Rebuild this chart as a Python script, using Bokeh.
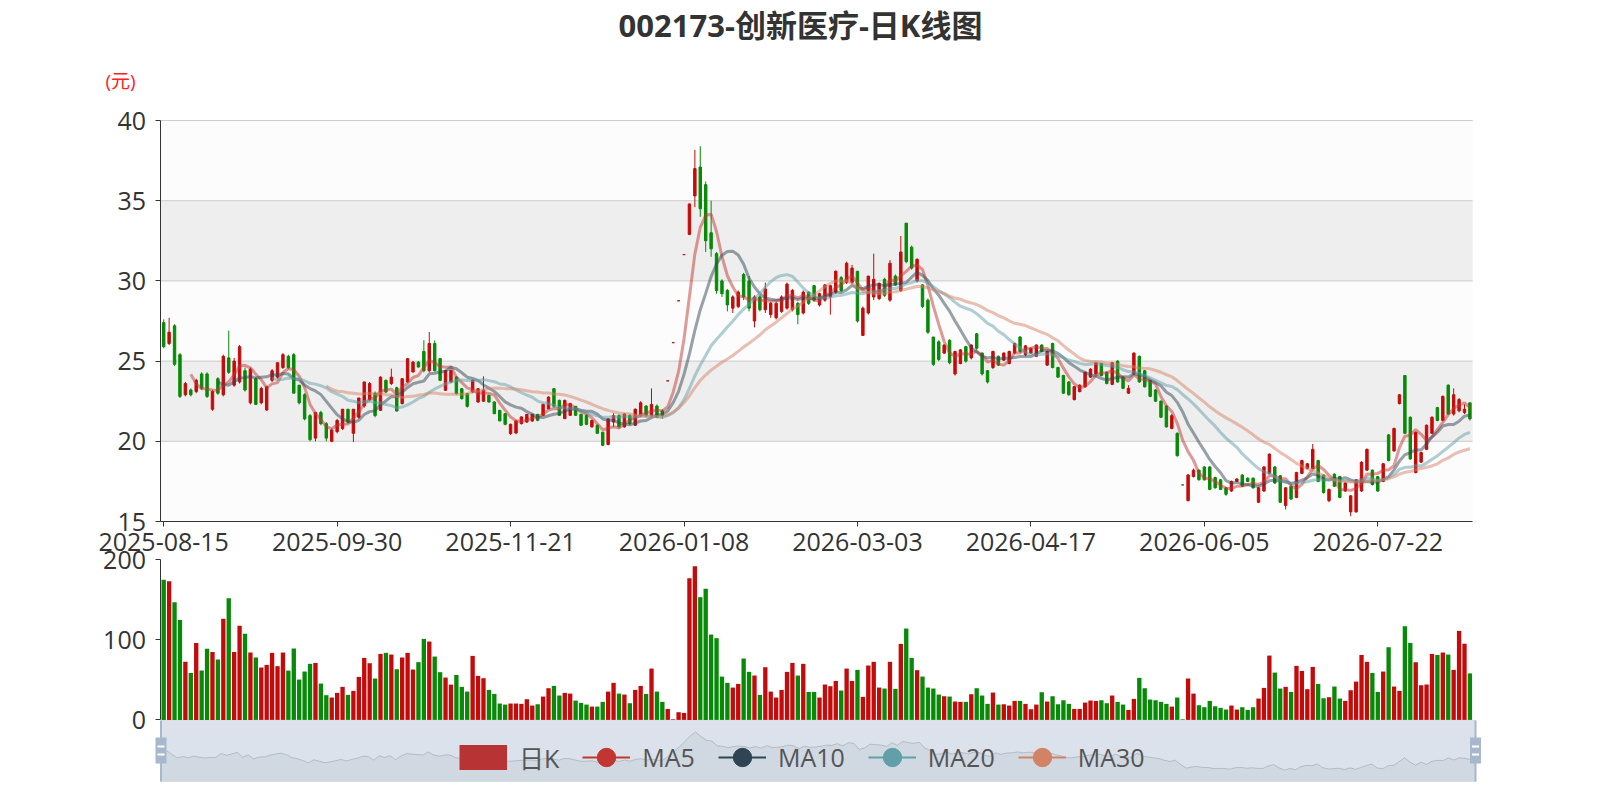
import numpy as np
import pandas as pd
from bokeh.plotting import figure
from bokeh.models import Range1d, LinearAxis, FixedTicker, Legend, LegendItem
from bokeh.embed import file_html
from bokeh.resources import INLINE
from bokeh.core.properties import value

# ---------------- data ----------------
tick_index = [0, 32, 64, 96, 128, 160, 192, 224]
tick_labels = ["2025-08-15", "2025-09-30", "2025-11-21", "2026-01-08",
               "2026-03-03", "2026-04-17", "2026-06-05", "2026-07-22"]
price_ticks = [15, 20, 25, 30, 35, 40]
volume_ticks = [0, 100, 200]

open_p = [
27.4, 26.1, 27.2, 25.4, 22.9, 23.2, 23.1, 24.2, 24.2, 22.0,
23.9, 22.9, 25.2, 23.5, 23.7, 24.4, 22.4, 23.9, 22.4, 21.95,
23.8, 24.0, 24.6, 25.3, 25.4, 23.5, 22.9, 21.6, 20.2, 21.8,
21.1, 20.0, 20.6, 20.8, 22.0, 20.5, 21.5, 22.2, 22.6, 23.0,
21.93, 23.8, 23.6, 23.34, 22.35, 23.7, 24.32, 24.94, 25.6, 24.4,
26.1, 25.15, 23.18, 23.7, 24.01, 23.28, 22.97, 23.07, 22.45, 22.5,
22.86, 22.45, 21.93, 21.72, 20.48, 20.52, 21.1, 21.2, 21.27, 21.68,
21.62, 22.03, 23.28, 22.55, 21.41, 21.62, 22.18, 21.68, 21.62, 20.9,
21.0, 20.56, 19.8, 21.2, 21.6, 20.9, 21.6, 21.0, 21.6, 22.2,
21.6, 22.2, 21.9, 23.77, 26.15, 28.76, 31.64, 32.9, 35.3, 37.1,
36.0, 33.0, 31.7, 30.0, 29.4, 28.3, 28.4, 30.4, 30.0, 27.5,
29.0, 28.2, 27.9, 27.7, 28.1, 28.3, 28.2, 28.6, 28.0, 29.3,
29.7, 28.5, 28.8, 29.0, 29.3, 30.2, 29.9, 29.9, 30.6, 26.6,
28.0, 29.0, 28.9, 30.1, 28.8, 30.3, 29.4, 33.6, 32.1, 30.0,
29.75, 28.8, 26.5, 26.2, 25.5, 26.3, 24.2, 24.85, 25.9, 25.2,
26.7, 25.5, 24.4, 24.6, 25.3, 25.06, 24.85, 25.5, 26.5, 25.4,
25.5, 25.3, 26.0, 24.75, 26.1, 24.6, 24.1, 23.7, 22.6, 23.1,
23.4, 24.0, 24.2, 24.85, 24.3, 23.55, 25.0, 24.0, 23.0, 24.2,
25.3, 24.4, 23.8, 23.2, 22.5, 22.2, 20.8, 20.5, 17.28, 16.3,
17.8, 18.2, 18.4, 18.4, 17.74, 17.6, 17.1, 16.9, 17.5, 17.9,
17.7, 17.7, 16.2, 16.9, 18.0, 18.4, 17.85, 16.0, 17.2, 16.5,
18.0, 18.3, 18.3, 18.8, 17.9, 16.3, 17.95, 17.8, 16.9, 15.6,
15.6, 16.9, 18.2, 18.2, 17.8, 17.5, 20.4, 19.4, 22.35, 24.1,
21.5, 18.05, 18.7, 19.5, 20.5, 22.1, 21.3, 23.5, 21.7, 21.9,
21.8, 22.4]

close_p = [
25.9, 26.8, 24.8, 22.8, 23.6, 22.9, 23.8, 23.3, 22.8, 23.1,
23.0, 25.3, 24.3, 25.0, 25.9, 23.2, 24.5, 22.3, 23.3, 23.4,
24.4, 24.9, 25.4, 24.6, 23.0, 22.4, 21.4, 20.1, 21.8, 21.1,
20.2, 20.7, 21.3, 22.0, 21.2, 22.0, 22.7, 23.7, 23.6, 21.6,
24.0, 23.07, 24.0, 21.89, 23.9, 25.15, 24.94, 24.63, 24.4, 26.1,
24.4, 23.8, 24.42, 24.42, 22.97, 22.66, 22.18, 23.8, 23.28, 23.2,
22.45, 21.72, 21.27, 21.06, 21.06, 21.27, 21.52, 21.68, 21.68, 21.31,
22.3, 22.76, 22.18, 21.62, 22.55, 22.35, 21.62, 21.0, 21.06, 21.3,
20.5, 19.75, 21.4, 21.6, 20.9, 21.7, 21.1, 22.0, 22.4, 21.6,
22.3, 21.5, 21.6, 23.77, 26.15, 28.76, 31.64, 34.8, 37.0, 34.5,
32.5, 32.0, 29.4, 29.2, 28.5, 29.0, 29.3, 29.0, 28.3, 29.0,
28.2, 29.5, 28.6, 28.6, 29.0, 29.8, 29.4, 27.9, 29.3, 28.6,
28.8, 29.2, 29.75, 29.7, 30.6, 29.4, 31.1, 30.8, 27.5, 28.3,
30.3, 30.1, 29.85, 29.1, 31.1, 29.75, 31.8, 31.2, 30.8, 31.35,
28.4, 26.8, 24.8, 25.1, 26.0, 24.9, 25.6, 25.7, 25.0, 26.0,
25.8, 24.2, 23.7, 25.6, 24.75, 25.5, 25.6, 26.1, 25.6, 25.95,
25.8, 26.0, 25.6, 25.6, 24.6, 24.0, 23.0, 22.9, 23.4, 23.5,
24.3, 24.5, 24.9, 24.1, 23.6, 24.9, 23.7, 23.3, 23.3, 25.5,
23.7, 23.4, 22.8, 22.5, 21.5, 20.9, 21.6, 19.1, 17.28, 17.9,
18.2, 17.6, 17.6, 17.0, 17.1, 17.0, 16.7, 17.5, 17.65, 17.2,
17.5, 17.1, 17.1, 18.4, 19.2, 17.4, 16.2, 17.1, 16.4, 18.05,
18.8, 18.6, 19.5, 17.5, 16.8, 17.0, 17.2, 16.5, 17.4, 16.6,
17.6, 18.7, 19.5, 17.3, 16.9, 18.6, 18.8, 20.8, 22.9, 20.5,
18.9, 20.56, 19.3, 21.0, 21.5, 21.3, 22.8, 21.7, 22.9, 22.6,
22.0, 21.4]

high_p = [
27.6, 27.7, 27.3, 25.5, 23.7, 23.3, 23.9, 24.3, 24.3, 23.2,
24.0, 25.4, 26.9, 25.2, 26.0, 24.6, 24.6, 24.0, 23.4, 23.4,
24.5, 24.9, 25.5, 25.4, 25.5, 23.5, 23.0, 21.7, 21.8, 21.9,
21.2, 20.8, 21.4, 22.0, 22.0, 22.0, 22.7, 23.7, 23.7, 23.1,
24.05, 23.85, 24.53, 23.4, 23.95, 25.2, 25.0, 25.0, 26.3, 26.81,
26.29, 25.2, 24.45, 24.45, 24.05, 23.3, 23.0, 23.85, 23.3, 24.05,
22.9, 22.5, 21.95, 21.75, 21.1, 21.3, 21.55, 21.7, 21.7, 21.7,
22.35, 22.8, 23.3, 22.6, 22.6, 22.4, 22.2, 21.7, 21.7, 21.35,
21.05, 20.6, 21.45, 21.75, 21.7, 21.75, 21.7, 22.05, 22.5, 22.25,
23.3, 22.3, 22.0, 23.77, 26.15, 28.76, 31.64, 34.8, 38.17, 38.4,
36.2, 35.0, 31.8, 30.1, 29.5, 29.1, 29.4, 30.5, 30.3, 29.1,
29.1, 29.9, 28.7, 28.7, 29.1, 29.9, 29.5, 28.7, 29.4, 29.35,
29.75, 29.25, 29.8, 29.75, 30.65, 30.3, 31.2, 31.0, 30.6, 28.4,
30.3, 31.7, 29.9, 30.2, 31.3, 30.4, 32.8, 33.6, 32.2, 31.4,
29.8, 28.9, 26.5, 26.3, 26.05, 26.35, 25.65, 25.75, 25.95, 26.05,
26.75, 25.55, 24.45, 25.65, 25.35, 25.55, 25.65, 26.15, 26.55, 26.0,
25.85, 26.05, 26.05, 25.65, 26.15, 24.65, 24.15, 23.75, 23.45, 23.55,
24.35, 24.55, 24.95, 24.9, 24.35, 24.95, 25.05, 24.05, 23.5, 25.55,
25.35, 24.45, 23.85, 23.25, 22.55, 22.25, 21.7, 20.55, 17.28, 17.95,
18.3, 18.25, 18.45, 18.45, 17.8, 17.65, 17.15, 17.55, 17.7, 17.95,
17.75, 17.75, 17.15, 18.45, 19.25, 18.45, 17.9, 17.15, 17.25, 18.1,
18.85, 18.65, 19.83, 18.85, 17.95, 17.05, 18.0, 17.85, 17.45, 16.65,
17.65, 18.75, 19.55, 18.25, 17.85, 18.65, 20.45, 20.85, 22.95, 24.12,
21.55, 20.6, 19.35, 21.05, 21.55, 22.15, 22.85, 23.55, 23.3, 22.7,
22.3, 22.4]

low_p = [
25.8, 26.0, 24.7, 22.7, 22.8, 22.8, 23.0, 23.2, 22.7, 21.9,
22.9, 22.8, 24.2, 23.4, 23.6, 23.1, 22.3, 22.3, 22.3, 21.9,
23.7, 23.9, 24.5, 24.5, 23.0, 22.3, 21.3, 20.0, 20.0, 21.0,
20.0, 19.95, 20.5, 20.7, 21.1, 19.95, 21.4, 22.1, 22.5, 21.5,
21.9, 23.0, 23.5, 21.85, 22.3, 23.65, 24.3, 24.6, 24.3, 24.3,
24.35, 23.75, 23.15, 23.65, 22.9, 22.6, 22.1, 23.0, 22.4, 22.45,
22.4, 21.7, 21.25, 21.0, 20.4, 20.45, 21.05, 21.15, 21.2, 21.25,
21.6, 22.0, 22.1, 21.6, 21.4, 21.6, 21.6, 20.95, 21.0, 20.85,
20.45, 19.7, 19.75, 20.9, 20.8, 20.85, 21.0, 20.95, 21.5, 21.5,
21.5, 21.45, 21.4, 23.77, 26.15, 28.76, 31.64, 32.85, 34.6, 34.0,
31.8, 31.5, 29.2, 29.0, 28.1, 28.0, 28.3, 28.8, 28.1, 27.1,
28.1, 28.0, 27.7, 27.6, 28.0, 28.2, 28.1, 27.3, 27.9, 28.5,
28.7, 28.4, 28.7, 27.9, 29.2, 29.3, 29.8, 29.8, 27.4, 26.6,
27.9, 28.8, 28.8, 29.0, 28.7, 29.7, 29.3, 31.1, 30.7, 29.9,
28.3, 26.7, 24.7, 25.0, 25.45, 24.8, 24.1, 24.8, 24.9, 25.1,
25.7, 24.1, 23.6, 24.5, 24.7, 25.0, 24.8, 25.45, 25.5, 25.3,
25.45, 25.25, 25.55, 24.7, 24.55, 23.95, 22.95, 22.85, 22.55, 23.05,
23.35, 23.95, 24.15, 24.05, 23.55, 23.5, 23.65, 23.25, 22.95, 24.15,
23.65, 23.35, 22.75, 22.45, 21.45, 20.85, 20.75, 19.05, 17.28, 16.25,
17.75, 17.55, 17.55, 16.95, 17.05, 16.95, 16.6, 16.85, 17.45, 17.15,
17.45, 17.05, 16.15, 16.85, 17.95, 17.35, 16.15, 15.75, 16.35, 16.45,
17.95, 18.25, 18.25, 17.45, 16.75, 16.2, 17.15, 16.45, 16.85, 15.33,
15.55, 16.85, 18.15, 17.25, 16.85, 17.45, 18.75, 19.35, 22.3, 20.45,
18.85, 18.0, 18.65, 19.45, 20.45, 21.25, 21.25, 21.65, 21.6, 21.8,
21.7, 21.3]

volume = [
174.6, 173, 146.8, 124.7, 72.4, 58.6, 96, 61.5, 88.6, 84.8,
75.3, 126, 151.8, 84.8, 117.3, 107.3, 84, 77.8, 65.3, 68.6,
83.6, 67, 84, 61.5, 89, 50.3, 60.3, 69.9, 71, 45.3,
30.8, 27.9, 33.7, 41.2, 31.2, 36.2, 53.6, 77.3, 70.7, 51.6,
82.3, 83.6, 81.5, 63.2, 77.8, 83.6, 62.8, 72, 101, 97.7,
79, 59.5, 52.8, 44, 56, 41.2, 35.3, 79.8, 54.9, 52,
37.4, 32.4, 20.4, 19.1, 20.4, 20.4, 20, 25.8, 17.9, 19.5,
29.1, 39.5, 42.4, 30.4, 33.7, 32.8, 24.1, 21.2, 19.1, 16.6,
16.6, 22.5, 35.3, 46.2, 32.8, 31.6, 20.8, 37.4, 42.4, 32.4,
64, 35.3, 22.5, 13.7, 0.8, 9.6, 8.7, 176.7, 191.7, 153,
163.4, 106.4, 101.9, 54, 46.2, 40.3, 44.9, 76.5, 59.9, 55.3,
31.2, 65.7, 35.3, 27.9, 37.4, 59.9, 71.1, 55.3, 69.9, 34.9,
34.9, 27.9, 44.1, 42, 48.6, 36.6, 64, 48.6, 62.4, 28.7,
67.8, 72.4, 40.3, 39.1, 72.4, 38.7, 94.8, 113.9, 77.3, 62,
54, 40.3, 39.1, 31.6, 29.5, 29.1, 22.9, 22.5, 22.5, 32,
39.5, 30.4, 20, 34.1, 19.1, 19.5, 17.9, 23.7, 23.7, 20,
13.3, 19.1, 34.5, 22.9, 29.5, 19.5, 24.5, 20, 13.7, 13.7,
21.6, 24.1, 23.7, 24.5, 20.8, 30.4, 22.5, 19.1, 12.5, 26.2,
52.4, 39.5, 25.4, 24.5, 22.5, 20, 16.6, 27.9, 0.8, 51.6,
32.8, 18.3, 15.8, 23.7, 17, 15, 12.9, 17.9, 12.9, 15.8,
12.5, 15.8, 26.6, 39.9, 80.2, 59, 39.1, 41.2, 34.9, 67.4,
61.1, 38.3, 66.1, 44.9, 27, 28.3, 41.6, 26.6, 23.7, 37,
47.8, 81, 72.4, 58.6, 34.9, 60.3, 90.6, 41.6, 36.2, 116.8,
96, 71.9, 43.2, 44.1, 82.3, 81, 84, 81.5, 62.4, 111,
95, 58]

ma_periods = [5, 10, 20, 30]
ma_names = ["MA5", "MA10", "MA20", "MA30"]

# ---------------- geometry (page pixels) ----------------
W, H = 1584, 784
OFF = 0                        # canvas origin on the captured page
X0, DX = 163.2, 5.42          # centre of first category, category width
Y40, PPU = 120.0, 16.04        # y of price 40, px per price unit
V0, VPU = 719.4, 0.802         # y of volume 0, px per volume unit
SL, SR, ST, SB = 160.5, 1475.0, 720.0, 781.0   # data-zoom slider box

UP, DOWN = "#c40b0b", "#078a07"
MA_COLORS = ["#c23531", "#2f4554", "#61a0a8", "#d48265"]
FONT = "Open Sans, Noto Sans CJK SC"

N = len(close_p)
idx = np.arange(N)
o = np.array(open_p); c = np.array(close_p)
hi = np.array(high_p); lo = np.array(low_p)
prev = np.r_[c[0], c[:-1]]
is_up = np.where(c > o, True, np.where(c < o, False, c >= prev))
colors = np.where(is_up, UP, DOWN).tolist()

cs = pd.Series(close_p)
mas = []
for n in ma_periods:
    m = cs.rolling(n).mean().to_numpy()
    m[:n] = np.nan
    mas.append(m)

top_page, bot_page = OFF, OFF + H
left_page, right_page = OFF, OFF + W

x_range = Range1d((left_page - X0) / DX, (right_page - X0) / DX)
y_range = Range1d(40 - (bot_page - Y40) / PPU, 40 + (Y40 - top_page) / PPU)

p = figure(width=W, height=H, x_range=x_range, y_range=y_range,
           output_backend="svg", toolbar_location=None, tools="",
           x_axis_location=None, y_axis_location=None, min_border=0)
p.grid.visible = False
p.outline_line_color = None
p.background_fill_color = "white"
p.border_fill_color = "white"

p.extra_y_ranges = {
    "vol": Range1d((V0 - bot_page) / VPU, (V0 - top_page) / VPU),
    "pxy": Range1d(-bot_page, -top_page),
}
ext_lo = min(close_p); ext_hi = max(close_p)
pad = (ext_hi - ext_lo) * 0.3
ext_lo -= pad; ext_hi += pad
def shadow_val(ypage):
    return ext_hi - (ypage - ST) / (SB - ST) * (ext_hi - ext_lo)
p.extra_y_ranges["shd"] = Range1d(shadow_val(bot_page), shadow_val(top_page))
p.extra_x_ranges = {
    "pxx": Range1d(left_page, right_page),
    "slx": Range1d((left_page - SL) / (SR - SL) * (N - 1), (right_page - SL) / (SR - SL) * (N - 1)),
}

# split areas and grid lines
band_bottoms = price_ticks[:-1]
band_tops = price_ticks[1:]
band_cols = ["#fcfcfc" if k % 2 == 0 else "#eeeeee" for k in range(len(band_bottoms))]
p.quad(left=-0.5, right=N - 0.5, bottom=band_bottoms, top=band_tops,
       fill_color=band_cols, line_color=None)
p.segment(x0=-0.5, x1=N - 0.5, y0=price_ticks[1:], y1=price_ticks[1:],
          line_color="#cccccc", line_width=1)

# candles
p.segment(x0=idx, x1=idx, y0=hi, y1=lo, line_color=colors, line_width=1)
p.vbar(x=idx, width=0.45, top=np.maximum(o, c), bottom=np.minimum(o, c),
       fill_color=colors, line_color=colors, line_width=1)

# moving averages
for m, col in zip(mas, MA_COLORS):
    p.line(idx, m, line_color=col, line_width=3, line_alpha=0.5)

# volume
p.vbar(x=idx, width=0.8, top=volume, bottom=0, y_range_name="vol",
       fill_color=colors, line_color=None)

# axes
xax = LinearAxis(fixed_location=15, bounds=(-0.5, N - 0.5),
                 ticker=FixedTicker(ticks=tick_index),
                 major_label_overrides={i: s for i, s in zip(tick_index, tick_labels)})
yax = LinearAxis(fixed_location=-0.5, bounds=(15, 40), ticker=FixedTicker(ticks=price_ticks))
vax = LinearAxis(fixed_location=-0.5, bounds=(0, 200), y_range_name="vol",
                 ticker=FixedTicker(ticks=volume_ticks))
for ax in (xax, yax, vax):
    ax.axis_line_color = "#333333"
    ax.major_tick_line_color = "#333333"
    ax.major_tick_out = 5
    ax.major_tick_in = 0
    ax.minor_tick_line_color = None
    ax.major_label_text_font = "Open Sans"
    ax.major_label_text_font_size = "25px"
    ax.major_label_text_color = "#333333"
xax.major_label_standoff = 6
yax.major_label_standoff = 10
vax.major_label_standoff = 10
p.add_layout(xax, "below")
p.add_layout(yax, "left")
p.add_layout(vax, "left")

# data-zoom slider
p.quad(left=SL, right=SR, top=-ST, bottom=-SB, x_range_name="pxx", y_range_name="pxy",
       fill_color="white", line_color=None)
p.varea(x=idx, y1=ext_lo, y2=close_p, x_range_name="slx", y_range_name="shd",
        fill_color="#2f4554", fill_alpha=0.09)
p.line(idx, close_p, x_range_name="slx", y_range_name="shd",
       line_color="#2f4554", line_alpha=0.3, line_width=1)
p.quad(left=SL, right=SR, top=-ST, bottom=-SB, x_range_name="pxx", y_range_name="pxy",
       fill_color="#a7b7cc", fill_alpha=0.4, line_color="#dddddd", line_width=1)
for hx in (SL, SR):
    p.segment(x0=hx, x1=hx, y0=-ST, y1=-SB, x_range_name="pxx", y_range_name="pxy",
              line_color="#a7b7cc", line_width=2)
    p.quad(left=hx - 5.5, right=hx + 5.5, top=-737, bottom=-763,
           x_range_name="pxx", y_range_name="pxy", fill_color="#a7b7cc", line_color=None)
    p.quad(left=hx - 3.5, right=hx + 3.5, top=[-745, -753], bottom=[-747, -755],
           x_range_name="pxx", y_range_name="pxy", fill_color="white", line_color=None)

# title and unit label
p.text(x=[800], y=[-24], text=["002173-创新医疗-日K线图"], x_range_name="pxx", y_range_name="pxy",
       text_align="center", text_baseline="middle", text_font=value(FONT),
       text_font_style="bold", text_font_size="31px", text_color="#333333")
p.text(x=[120], y=[-80], text=["(元)"], x_range_name="pxx", y_range_name="pxy",
       text_align="center", text_baseline="middle", text_font=value(FONT),
       text_font_size="19px", text_color="#ff2020")

# legend (renderers with one off-screen point supply the icons)
far = [-1.0e6]
items = []
rk = p.line(x=far, y=far, line_color="#b83333", line_width=25)
items.append(LegendItem(label="日K", renderers=[rk]))
for name, col in zip(ma_names, MA_COLORS):
    rl = p.line(x=far, y=far, line_color=col, line_width=2)
    rc = p.scatter(x=far, y=far, marker="circle", fill_color=col, line_color=col)
    items.append(LegendItem(label=name, renderers=[rl, rc]))
legend = Legend(items=items, orientation="horizontal", location=(459, 4),
                glyph_width=48, glyph_height=46, label_standoff=12, spacing=23,
                padding=0, margin=0, border_line_color=None, background_fill_alpha=0,
                label_text_font=FONT, label_text_font_size="25px", label_text_color="#555555")
p.add_layout(legend)

open("out.html", "w").write(file_html(p, INLINE))
